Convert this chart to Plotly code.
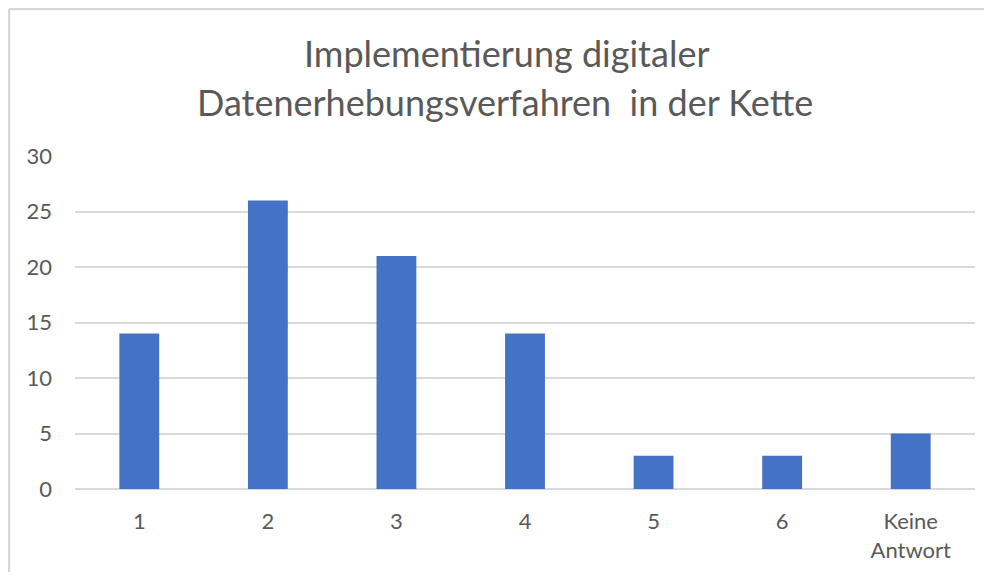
import plotly.graph_objects as go

categories = ["1", "2", "3", "4", "5", "6", "Keine<br>Antwort"]
values = [14, 26, 21, 14, 3, 3, 5]
y_ticks = [0, 5, 10, 15, 20, 25, 30]
title_lines = ["Implementierung digitaler", "Datenerhebungsverfahren  in der Kette"]

# browser body has an 8px margin: figure coords = page coords - 8
OFF = 8
W, H = 992 - 2 * OFF, 580 - 2 * OFF
L, R, T, B = 75 - OFF, W - (975 - OFF), 156 - OFF, H - (489 - OFF)
pw, ph = W - L - R, H - T - B

def px(x_page):
    return (x_page - OFF - L) / pw

def py(y_page):
    return (H - B - (y_page - OFF)) / ph

FONT = "Lato"
GREY = "#595959"
GRID = "#d9d9d9"

fig = go.Figure(go.Bar(x=categories, y=values, marker=dict(color="#4472C4", line=dict(width=0)), width=0.31))

fig.update_layout(
    width=W, height=H,
    margin=dict(l=L, r=R, t=T, b=B),
    paper_bgcolor="white", plot_bgcolor="white",
    font=dict(family=FONT, color=GREY, size=22),
    showlegend=False,
    xaxis=dict(showgrid=False, showline=False, zeroline=False, ticks="",
               ticklabelstandoff=17, tickfont=dict(size=22, color=GREY)),
    yaxis=dict(range=[0, 30], tickvals=y_ticks, showgrid=True, gridcolor=GRID, gridwidth=2,
               zeroline=True, zerolinecolor=GRID, zerolinewidth=2, showline=False,
               ticks="", ticklabelstandoff=22, tickfont=dict(size=22, color=GREY)),
    annotations=[
        dict(text=title_lines[0], x=px(507), y=py(53), xref="paper", yref="paper",
             xanchor="center", yanchor="middle", showarrow=False,
             font=dict(family=FONT, size=36, color=GREY)),
        dict(text=title_lines[1], x=px(505), y=py(102), xref="paper", yref="paper",
             xanchor="center", yanchor="middle", showarrow=False,
             font=dict(family=FONT, size=36, color=GREY)),
    ],
    shapes=[
        dict(type="line", xref="paper", yref="paper", x0=px(9), x1=px(1000), y0=py(9), y1=py(9),
             line=dict(color="#d6d6d6", width=2.5)),
        dict(type="line", xref="paper", yref="paper", x0=px(9), x1=px(9), y0=py(9), y1=py(600),
             line=dict(color="#d6d6d6", width=2.5)),
    ],
)

fig.write_html("out.html")
